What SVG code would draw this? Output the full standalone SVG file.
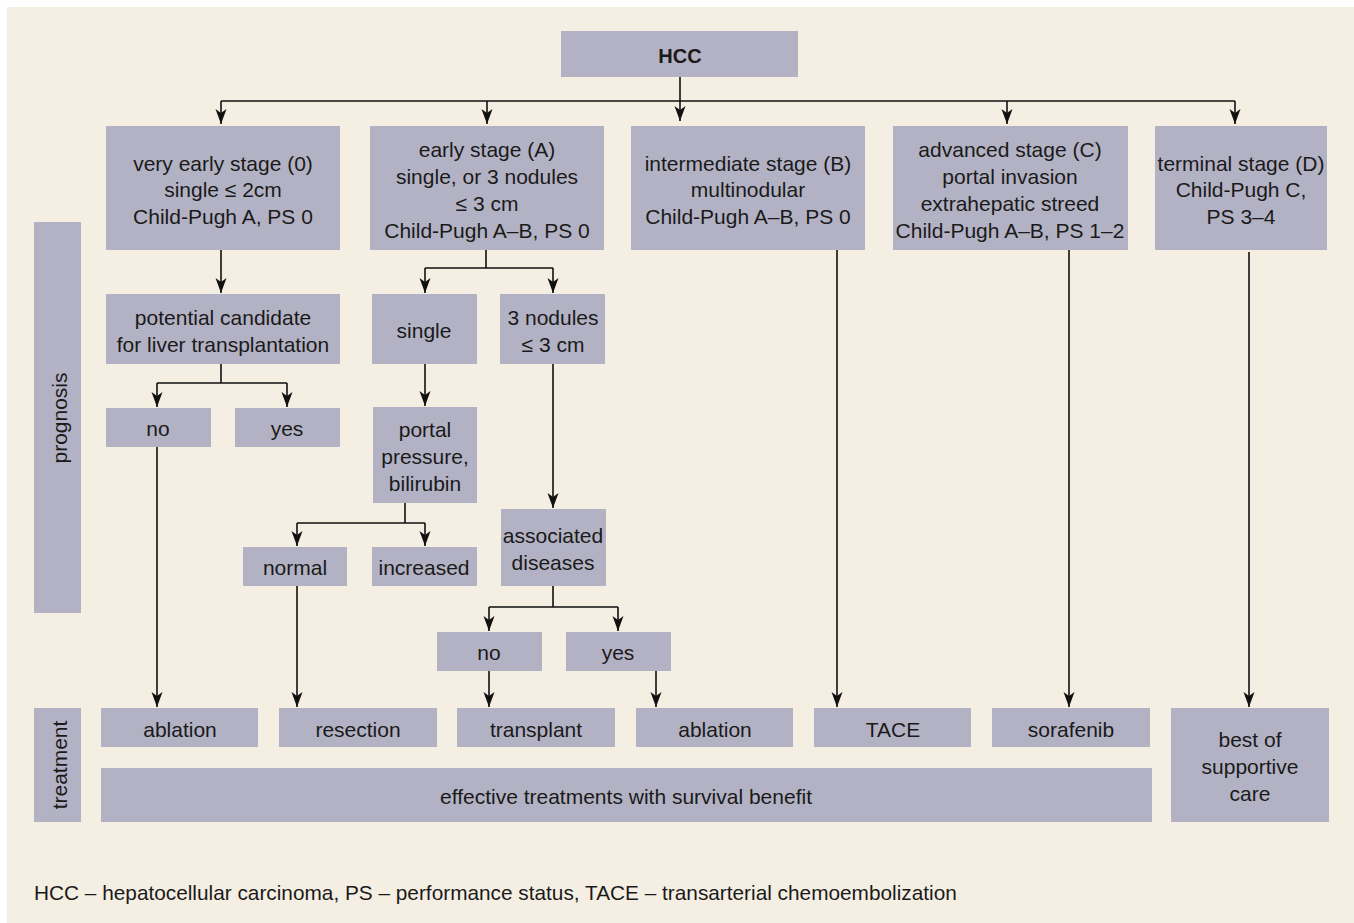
<svg xmlns="http://www.w3.org/2000/svg" width="1354" height="923" viewBox="0 0 1354 923">
<style>
.box{fill:#b3b2c4}
.t{font-family:"Liberation Sans",Arial,sans-serif;font-size:21px;fill:#1a1a1a;text-anchor:middle}
.b{font-weight:bold;font-size:20px}
.fn{text-anchor:start;font-size:20.8px}
.c{fill:none;stroke:#111;stroke-width:1.6}
</style>
<defs>
<marker id="ah" markerUnits="userSpaceOnUse" markerWidth="17" markerHeight="12" refX="15" refY="5.5" orient="auto">
<path d="M0,0 L15,5.5 L0,11 L4,5.5 Z" fill="#111"/>
</marker>
</defs>
<rect x="0" y="0" width="1354" height="923" fill="#ffffff"/>
<rect x="7" y="7" width="1347" height="916" fill="#f5efe3"/>

<g id="side-prognosis"><rect class="box" x="34" y="222" width="47" height="391"/><text class="t" transform="translate(67,418) rotate(-90)">prognosis</text></g>
<g id="side-treatment"><rect class="box" x="34" y="708" width="47" height="114"/><text class="t" transform="translate(67,765) rotate(-90)">treatment</text></g>

<g id="hcc"><rect class="box" x="561" y="31" width="237" height="46"/><text class="t b" x="680" y="63">HCC</text></g>

<g id="stage0"><rect class="box" x="106" y="126" width="234" height="124"/><text class="t" x="223"><tspan x="223" y="171">very early stage (0)</tspan><tspan x="223" y="197">single ≤ 2cm</tspan><tspan x="223" y="224">Child-Pugh A, PS 0</tspan></text></g>
<g id="stageA"><rect class="box" x="370" y="126" width="234" height="124"/><text class="t"><tspan x="487" y="157">early stage (A)</tspan><tspan x="487" y="184">single, or 3 nodules</tspan><tspan x="487" y="211">≤ 3 cm</tspan><tspan x="487" y="238">Child-Pugh A–B, PS 0</tspan></text></g>
<g id="stageB"><rect class="box" x="631" y="126" width="234" height="124"/><text class="t"><tspan x="748" y="171">intermediate stage (B)</tspan><tspan x="748" y="197">multinodular</tspan><tspan x="748" y="224">Child-Pugh A–B, PS 0</tspan></text></g>
<g id="stageC"><rect class="box" x="893" y="126" width="235" height="124"/><text class="t"><tspan x="1010" y="157">advanced stage (C)</tspan><tspan x="1010" y="184">portal invasion</tspan><tspan x="1010" y="211">extrahepatic streed</tspan><tspan x="1010" y="238">Child-Pugh A–B, PS 1–2</tspan></text></g>
<g id="stageD"><rect class="box" x="1155" y="126" width="172" height="124"/><text class="t"><tspan x="1241" y="171">terminal stage (D)</tspan><tspan x="1241" y="197">Child-Pugh C,</tspan><tspan x="1241" y="224">PS 3–4</tspan></text></g>

<g id="candidate"><rect class="box" x="106" y="294" width="234" height="70"/><text class="t"><tspan x="223" y="325">potential candidate</tspan><tspan x="223" y="352">for liver transplantation</tspan></text></g>
<g id="single"><rect class="box" x="372" y="294" width="105" height="70"/><text class="t" x="424" y="338">single</text></g>
<g id="nodules"><rect class="box" x="500" y="294" width="105" height="70"/><text class="t"><tspan x="553" y="325">3 nodules</tspan><tspan x="553" y="352">≤ 3 cm</tspan></text></g>

<g id="no1"><rect class="box" x="106" y="408" width="105" height="39"/><text class="t" x="158" y="436">no</text></g>
<g id="yes1"><rect class="box" x="235" y="408" width="105" height="39"/><text class="t" x="287" y="436">yes</text></g>
<g id="portal"><rect class="box" x="373" y="407" width="104" height="96"/><text class="t"><tspan x="425" y="437">portal</tspan><tspan x="425" y="464">pressure,</tspan><tspan x="425" y="491">bilirubin</tspan></text></g>

<g id="normal"><rect class="box" x="243" y="547" width="104" height="39"/><text class="t" x="295" y="575">normal</text></g>
<g id="increased"><rect class="box" x="372" y="547" width="105" height="39"/><text class="t" x="424" y="575">increased</text></g>
<g id="assoc"><rect class="box" x="501" y="509" width="105" height="77"/><text class="t"><tspan x="553" y="543">associated</tspan><tspan x="553" y="570">diseases</tspan></text></g>

<g id="no2"><rect class="box" x="437" y="632" width="105" height="39"/><text class="t" x="489" y="660">no</text></g>
<g id="yes2"><rect class="box" x="566" y="632" width="105" height="39"/><text class="t" x="618" y="660">yes</text></g>

<g id="ablation1"><rect class="box" x="101" y="708" width="157" height="39"/><text class="t" x="180" y="737">ablation</text></g>
<g id="resection"><rect class="box" x="279" y="708" width="158" height="39"/><text class="t" x="358" y="737">resection</text></g>
<g id="transplant"><rect class="box" x="457" y="708" width="158" height="39"/><text class="t" x="536" y="737">transplant</text></g>
<g id="ablation2"><rect class="box" x="636" y="708" width="157" height="39"/><text class="t" x="715" y="737">ablation</text></g>
<g id="tace"><rect class="box" x="814" y="708" width="157" height="39"/><text class="t" x="893" y="737">TACE</text></g>
<g id="sorafenib"><rect class="box" x="992" y="708" width="158" height="39"/><text class="t" x="1071" y="737">sorafenib</text></g>
<g id="bsc"><rect class="box" x="1171" y="708" width="158" height="114"/><text class="t"><tspan x="1250" y="747">best of</tspan><tspan x="1250" y="774">supportive</tspan><tspan x="1250" y="801">care</tspan></text></g>
<g id="effective"><rect class="box" x="101" y="768" width="1051" height="54"/><text class="t" x="626" y="804">effective treatments with survival benefit</text></g>

<g id="connectors">
<path class="c" d="M680,77 V121" marker-end="url(#ah)"/>
<path class="c" d="M221,101 H1235"/>
<path class="c" d="M221,101 V124" marker-end="url(#ah)"/>
<path class="c" d="M487,101 V124" marker-end="url(#ah)"/>
<path class="c" d="M1007,101 V124" marker-end="url(#ah)"/>
<path class="c" d="M1235,101 V124" marker-end="url(#ah)"/>
<path class="c" d="M221,250 V293" marker-end="url(#ah)"/>
<path class="c" d="M486,250 V268 M425,268 H553"/>
<path class="c" d="M425,268 V293" marker-end="url(#ah)"/>
<path class="c" d="M553,268 V293" marker-end="url(#ah)"/>
<path class="c" d="M221,364 V383 M157,383 H287"/>
<path class="c" d="M157,383 V407" marker-end="url(#ah)"/>
<path class="c" d="M287,383 V407" marker-end="url(#ah)"/>
<path class="c" d="M425,364 V406" marker-end="url(#ah)"/>
<path class="c" d="M553,364 V508" marker-end="url(#ah)"/>
<path class="c" d="M405,503 V523 M297,523 H425"/>
<path class="c" d="M297,523 V546" marker-end="url(#ah)"/>
<path class="c" d="M425,523 V546" marker-end="url(#ah)"/>
<path class="c" d="M553,586 V607 M489,607 H618"/>
<path class="c" d="M489,607 V631" marker-end="url(#ah)"/>
<path class="c" d="M618,607 V631" marker-end="url(#ah)"/>
<path class="c" d="M157,447 V707" marker-end="url(#ah)"/>
<path class="c" d="M297,586 V707" marker-end="url(#ah)"/>
<path class="c" d="M489,671 V707" marker-end="url(#ah)"/>
<path class="c" d="M656,671 V707" marker-end="url(#ah)"/>
<path class="c" d="M837,250 V707" marker-end="url(#ah)"/>
<path class="c" d="M1069,250 V707" marker-end="url(#ah)"/>
<path class="c" d="M1249,252 V707" marker-end="url(#ah)"/>
</g>

<text class="t fn" x="34" y="900">HCC – hepatocellular carcinoma, PS – performance status, TACE – transarterial chemoembolization</text>
</svg>
